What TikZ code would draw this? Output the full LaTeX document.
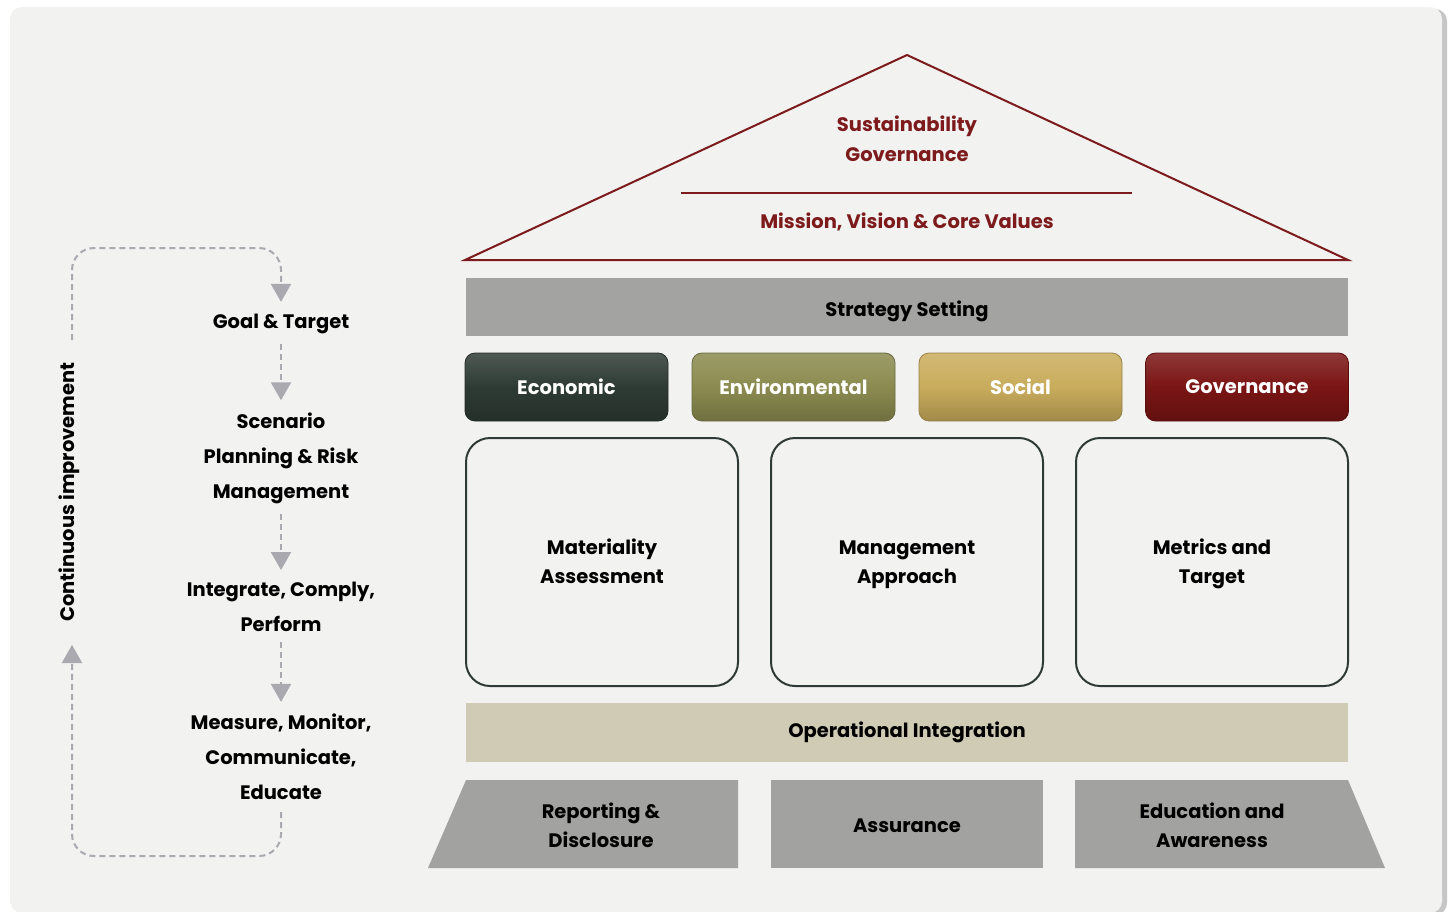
\documentclass[tikz,border=0pt]{standalone}
\usepackage{fontspec}
\setmainfont{Poppins}
\usetikzlibrary{arrows.meta,calc}
\definecolor{roofred}{HTML}{7D1A1C}
\definecolor{stratgray}{HTML}{A3A3A1}
\definecolor{econ}{HTML}{2E3B34}
\definecolor{env}{HTML}{8B8B50}
\definecolor{social}{HTML}{C9AC5C}
\definecolor{gov}{HTML}{7A1514}
\definecolor{boxborder}{HTML}{2F3A36}
\definecolor{opbeige}{HTML}{CFCBB4}
\definecolor{bottomgray}{HTML}{A2A2A0}
\definecolor{arrowgray}{HTML}{A9A9AF}
\definecolor{panel}{HTML}{F2F2F1}
\newcommand{\pillartext}[1]{\raisebox{8pt}[0pt][0pt]{\parbox[t]{200pt}{\centering #1}}}
\begin{document}
\begin{tikzpicture}[x=1pt,y=-1pt,
  txt/.style={font=\fontsize{19.5}{29}\selectfont\bfseries, align=center, inner sep=0pt},
  lefttxt/.style={txt, font=\fontsize{19.5}{35}\selectfont\bfseries},
  rooftxt/.style={txt, text=roofred, font=\fontsize{19.5}{30}\selectfont\bfseries},
  bar/.style={txt, minimum width=882, minimum height=58},
  btn/.style={txt, text=white, rounded corners=10pt, minimum width=203, minimum height=68,
     draw=#1!75!black, line width=0.8pt, top color=#1!85!white, bottom color=#1!80!black, middle color=#1},
  pillar/.style={txt, draw=boxborder, line width=2pt, rounded corners=24pt, minimum width=272, minimum height=248},
  flow/.style={draw=arrowgray, line width=2pt, dash pattern=on 6pt off 4pt,
     -{Triangle[width=20pt,length=18pt,fill=arrowgray]}},
  bottomshape/.style={fill=bottomgray},
  roofline/.style={draw=roofred, line width=2pt}
]
\useasboundingbox (0,0) rectangle (1453,911);
\fill[white] (0,0) rectangle (1453,911);
% panel
\fill[gray!45, rounded corners=12pt] (14,9) rectangle (1447,915);
\fill[panel, rounded corners=12pt] (10,7) rectangle (1442,913);

% roof
\coordinate (apex) at (907,55);
\coordinate (roofL) at (465,260);
\coordinate (roofR) at (1348,260);
\coordinate (divL) at (681,193);
\coordinate (divR) at (1132,193);
\draw[roofline, line join=miter] (roofL) -- (apex) -- (roofR) -- cycle;
\draw[roofline] (divL) -- (divR);
\node[rooftxt] (sg) at (907,139) {Sustainability\\Governance};
\node[rooftxt] (mv) at (907,222) {Mission, Vision \& Core Values};

% strategy
\node[bar, fill=stratgray, text depth=0pt] (strat) at (907,307) {\raisebox{-3pt}{Strategy Setting}};

% buttons
\node[btn=econ] (b1) at (566.5,387) {\raisebox{-2pt}{Economic}};
\node[btn=env] (b2) at (793.5,387) {\raisebox{-2pt}{Environmental}};
\node[btn=social] (b3) at (1020.5,387) {\raisebox{-2pt}{Social}};
\node[btn=gov] (b4) at (1247,387) {\raisebox{-2pt}{Governance}};

% pillars
\node[pillar] (p1) at (602,562) {\pillartext{Materiality\\Assessment}};
\node[pillar] (p2) at (907,562) {\pillartext{Management\\Approach}};
\node[pillar] (p3) at (1212,562) {\pillartext{Metrics and\\Target}};

% operational
\node[bar, fill=opbeige, minimum height=59] (op) at (907,732.5) {\raisebox{-3pt}{Operational Integration}};

% bottom
\fill[bottomshape] (466,780) -- (738,780) -- (738,868) -- (428,868) -- cycle;
\fill[bottomshape] (771,780) -- (1043,780) -- (1043,868) -- (771,868) -- cycle;
\fill[bottomshape] (1075,780) -- (1348,780) -- (1385,868) -- (1075,868) -- cycle;
\node[txt] (rd) at (601,825) {Reporting \&\\Disclosure};
\node[txt] (as) at (907,826) {Assurance};
\node[txt] (ea) at (1212,825) {Education and\\Awareness};

% left cycle
\node[lefttxt] (goal) at (281,324) {Goal \& Target};
\node[lefttxt] (scen) at (281,458) {Scenario\\Planning \& Risk\\Management};
\node[lefttxt] (integ) at (281,607) {Integrate, Comply,\\Perform};
\node[lefttxt] (meas) at (281,757) {Measure, Monitor,\\Communicate,\\Educate};
\node[lefttxt, rotate=90] (ci) at (69,492) {Continuous improvement};
\coordinate (loopA) at (72,340);
\coordinate (loopB) at (72,645);
\coordinate (topR) at (281,248);
\coordinate (botR) at (281,856);

\draw[flow, shorten <=10pt, shorten >=12pt] (goal) -- (scen);
\draw[flow, shorten <=10pt, shorten >=12pt] (scen) -- (integ);
\draw[flow, shorten <=10pt, shorten >=12pt] (integ) -- (meas);
\draw[flow, rounded corners=22pt, shorten >=12pt] (loopA) |- (topR) -- (goal);
\draw[flow, rounded corners=22pt, shorten <=12pt] (meas) -- (botR) -| (loopB);
\end{tikzpicture}
\end{document}
